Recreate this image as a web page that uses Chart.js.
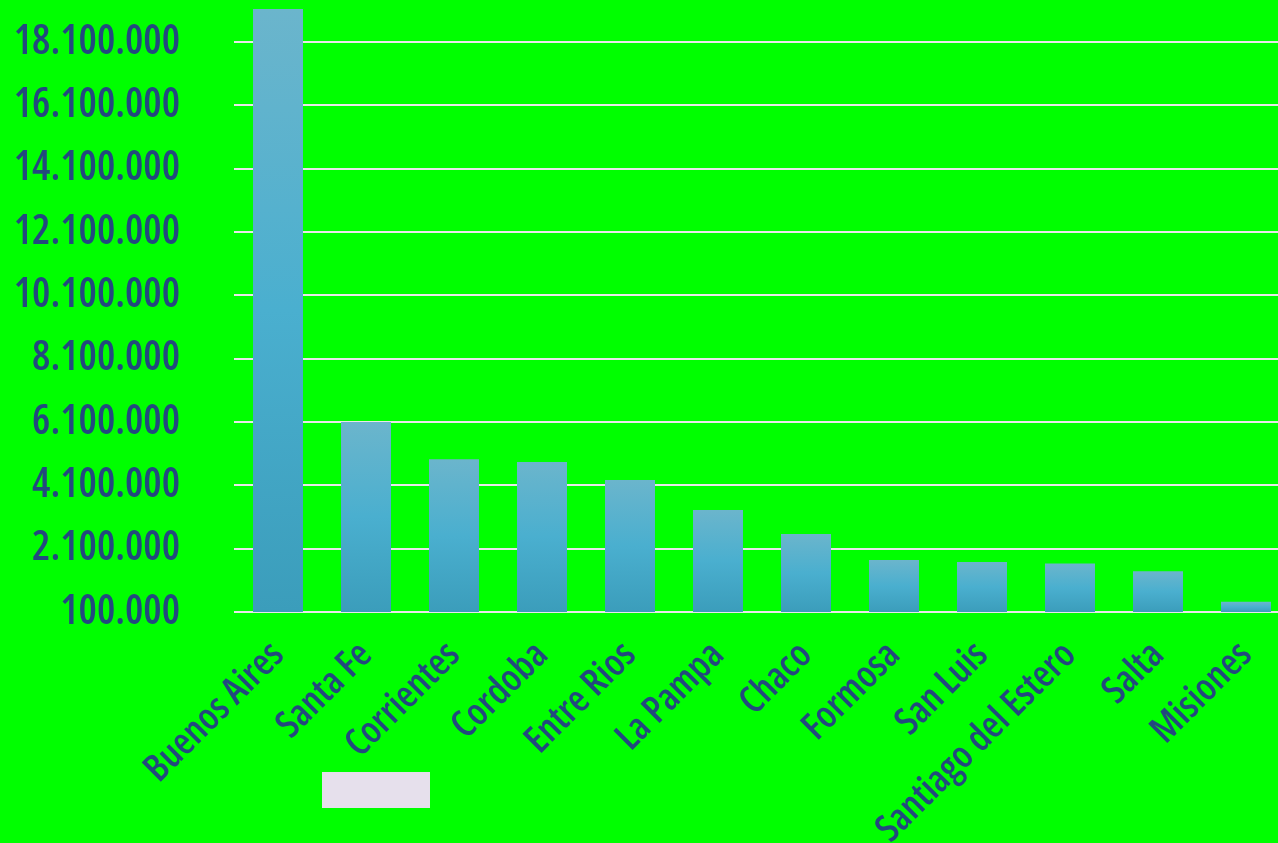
<!DOCTYPE html>
<html>
<head>
<meta charset="utf-8">
<script src="https://cdn.jsdelivr.net/npm/chart.js@4.4.1/dist/chart.umd.min.js"></script>
<style>
html,body{margin:0;padding:0;background:#00FF00;overflow:hidden;width:1278px;height:843px;}
#wrap{position:absolute;left:0;top:0;width:1290px;height:843px;}
#box{position:absolute;left:322px;top:772px;width:108px;height:36px;background:#E6E0EC;}
</style>
</head>
<body>
<div id="wrap"><canvas id="c"></canvas></div>
<div id="box"></div>
<script>
const categories = ["Buenos Aires","Santa Fe","Corrientes","Cordoba","Entre Rios","La Pampa","Chaco","Formosa","San Luis","Santiago del Estero","Salta","Misiones"];
const values = [19140000, 6100000, 4920000, 4840000, 4270000, 3320000, 2560000, 1740000, 1680000, 1630000, 1390000, 420000];
const yMin = 100000;
const yMax = 19140000;
const yStep = 2000000;
const yTickTop = 18100000;

const FONT = "'Open Sans', sans-serif";
const TEXT = '#23497E';

function fmt(v){ return String(Math.round(v)).replace(/\B(?=(\d{3})+(?!\d))/g, '.'); }

const chart = new Chart(document.getElementById('c'), {
  type: 'bar',
  data: {
    labels: categories,
    datasets: [{
      label: '',
      data: values,
      backgroundColor: (ctx) => {
        const chart = ctx.chart;
        if (!chart.chartArea || !chart.scales.y) return '#4AAFCF';
        const ys = chart.scales.y;
        const top = ys.getPixelForValue(values[ctx.dataIndex]);
        const bottom = ys.getPixelForValue(yMin);
        if (!isFinite(top) || !isFinite(bottom) || bottom - top < 1) return '#4AAFCF';
        const g = chart.ctx.createLinearGradient(0, top, 0, bottom);
        g.addColorStop(0, '#6BB5CC');
        g.addColorStop(0.5, '#4AAFCF');
        g.addColorStop(1, '#3B9DBB');
        return g;
      },
      borderWidth: 0,
      barPercentage: 0.568,
      categoryPercentage: 1.0
    }]
  },
  options: {
    responsive: true,
    maintainAspectRatio: false,
    animation: false,
    layout: { padding: { top: 9, left: 0, right: 0, bottom: 0 } },
    plugins: { legend: { display: false }, tooltip: { enabled: false } },
    scales: {
      x: {
        grid: { display: false },
        border: { display: false },
        ticks: {
          color: TEXT,
          font: { family: FONT, size: 38, weight: '600 condensed' },
          minRotation: 45, maxRotation: 45,
          padding: 13,
          autoSkip: false
        },
        afterFit: (s) => { s.height = 231; s.paddingLeft = 0; s.paddingRight = 0; s.paddingTop = 0; s.paddingBottom = 0; }
      },
      y: {
        min: yMin,
        max: yMax,
        border: { display: false },
        grid: { color: '#E8E8E8', lineWidth: 2, drawTicks: false },
        ticks: {
          color: TEXT,
          font: { family: FONT, size: 41, weight: '600 condensed' },
          padding: 54,
          callback: (v) => fmt(v)
        },
        afterBuildTicks: (s) => {
          const t = [];
          for (let v = yMin; v <= yTickTop; v += yStep) t.push({ value: v });
          s.ticks = t;
        },
        afterFit: (s) => { s.width = 234; s.paddingTop = 0; s.paddingBottom = 0; s.paddingLeft = 0; s.paddingRight = 0; }
      }
    }
  }
});
</script>
</body>
</html>
